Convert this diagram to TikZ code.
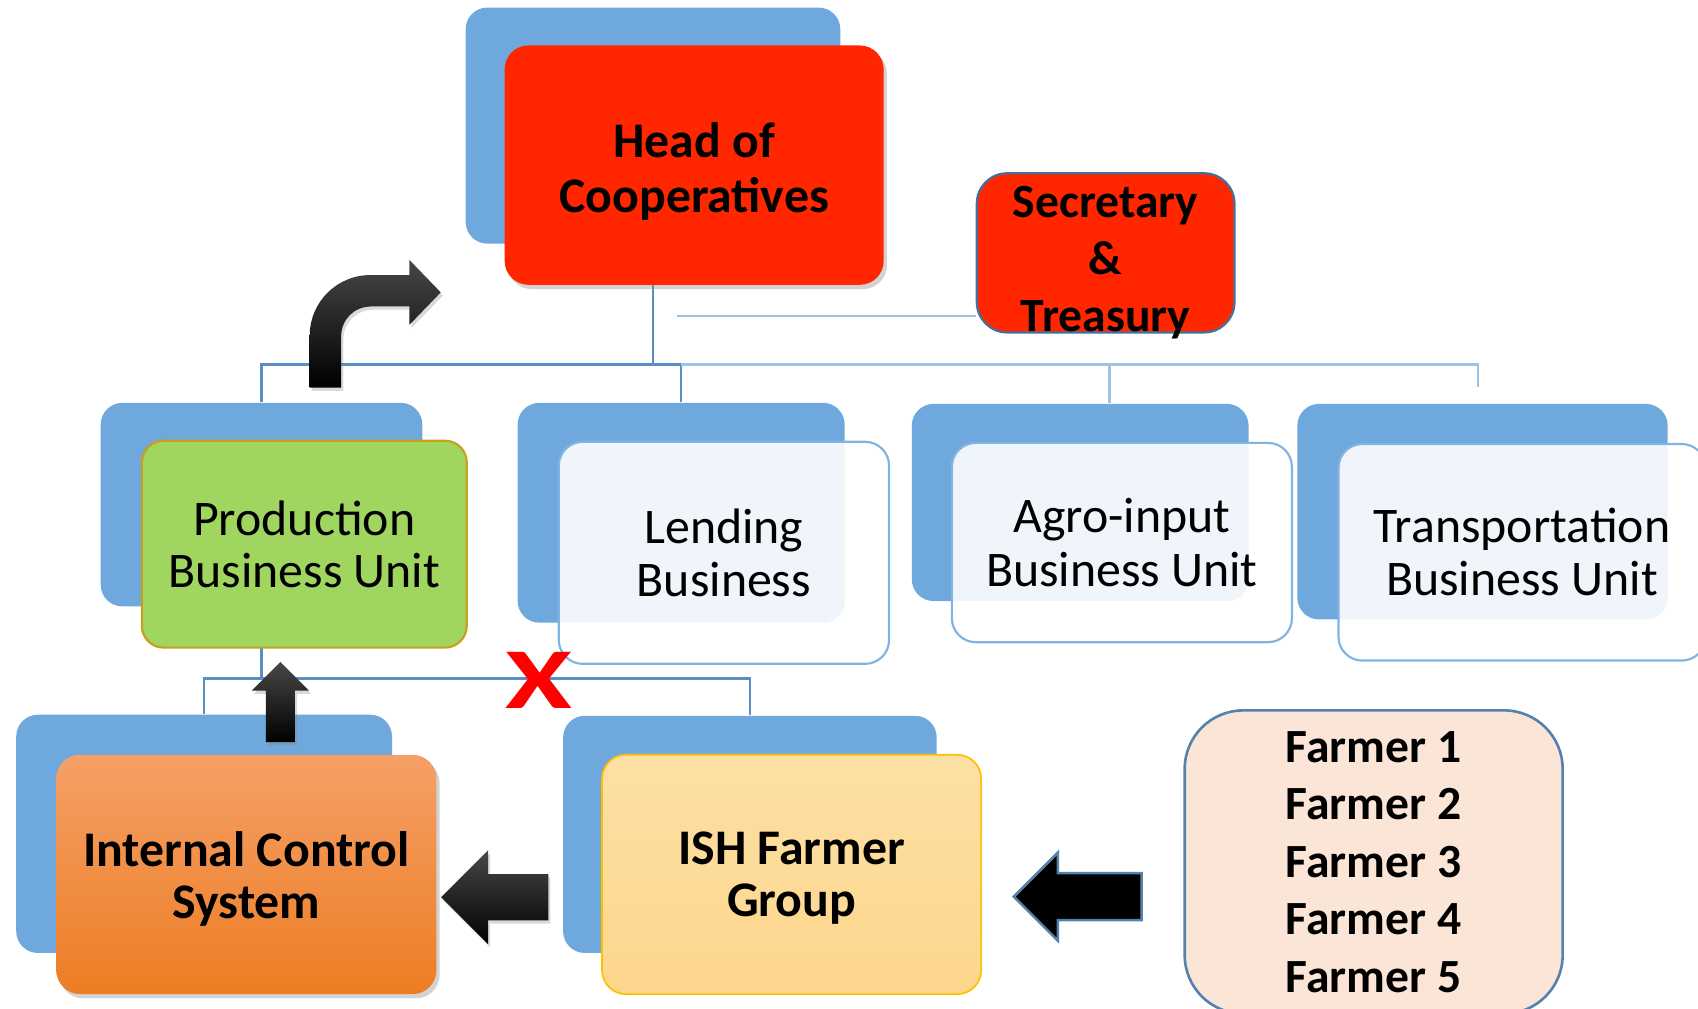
\documentclass[tikz,border=0pt]{standalone}
\usepackage{fontspec}
\setmainfont{Carlito}
\usetikzlibrary{shapes.arrows,shadows,backgrounds,calc}

\definecolor{backblue}{RGB}{111,168,220}
\definecolor{treeblue}{RGB}{91,143,196}
\definecolor{lightline}{RGB}{157,195,230}
\definecolor{unitedge}{RGB}{130,180,225}
\definecolor{coopred}{RGB}{255,38,0}
\definecolor{secedge}{RGB}{65,113,156}
\definecolor{prodgreen}{RGB}{160,213,96}
\definecolor{prodedge}{RGB}{200,160,30}
\definecolor{icstop}{RGB}{245,160,104}
\definecolor{icsbottom}{RGB}{237,125,35}
\definecolor{ishtop}{RGB}{253,224,165}
\definecolor{ishbottom}{RGB}{253,214,140}
\definecolor{ishedge}{RGB}{255,192,0}
\definecolor{farmfill}{RGB}{251,229,214}
\definecolor{farmedge}{RGB}{84,130,175}
\definecolor{xred}{RGB}{255,0,0}

\begin{document}
\begin{tikzpicture}[
		x=0.5pt, y=-0.5pt,
		every node/.style = {align=center, inner sep=0pt},
		back/.style = {rectangle, rounded corners=10pt, fill=backblue},
		headbox/.style = {rectangle, rounded corners=11pt, fill=coopred,
			font=\bfseries\fontsize{23}{25}\selectfont, text height=47pt,
			drop shadow={shadow xshift=1.5pt, shadow yshift=-2pt, opacity=0.35}},
		secbox/.style = {rectangle, rounded corners=14pt, fill=coopred,
			draw=secedge, line width=1pt, text height=73pt, text depth=0pt,
			font=\bfseries\fontsize{22}{26.5}\selectfont},
		prodbox/.style = {rectangle, rounded corners=10pt, fill=prodgreen,
			draw=prodedge, line width=1pt,
			font=\fontsize{23}{24}\selectfont},
		unitbox/.style = {rectangle, rounded corners=11pt, fill=white,
			fill opacity=0.89, text opacity=1, draw=unitedge, line width=1pt,
			font=\fontsize{23}{24.5}\selectfont},
		icsbox/.style = {rectangle, rounded corners=11pt,
			top color=icstop, bottom color=icsbottom, text height=44pt,
			font=\bfseries\fontsize{23}{24}\selectfont,
			drop shadow={shadow xshift=1.5pt, shadow yshift=-2pt, opacity=0.35}},
		ishbox/.style = {rectangle, rounded corners=11pt,
			top color=ishtop, bottom color=ishbottom, text height=42.8pt,
			draw=ishedge, line width=0.8pt,
			font=\bfseries\fontsize{23}{24}\selectfont},
		farmbox/.style = {rectangle, rounded corners=27pt, fill=farmfill,
			draw=farmedge, line width=1.2pt,
			font=\bfseries\fontsize{22}{26.5}\selectfont},
		blockarrow/.style = {single arrow, single arrow tip angle=90,
			top color=black!72, bottom color=black,
			drop shadow={shadow xshift=1pt, shadow yshift=-1.5pt, opacity=0.3}},
		tree/.style = {draw=treeblue, line width=1pt},
		lighttree/.style = {draw=lightline, line width=1pt},
		]
		\useasboundingbox (0,0) rectangle (1568,931);

		% top level
		\node[back, minimum width=173pt, minimum height=109pt] (hb) at (603,116) {};
		\node[headbox, minimum width=175pt, minimum height=110.5pt] (hf) at (641,152.5) {Head of\\Cooperatives};
		\node[secbox, minimum width=119pt, minimum height=73.5pt] (sec) at (1021,233.5) {Secretary\\\&\\Treasury};

		% business units
		\node[back, minimum width=148.5pt, minimum height=94pt] (pb) at (241.5,466) {};
		\node[prodbox, minimum width=150pt, minimum height=95.5pt] (pf) at (281,502.5) {Production\\Business Unit};
		\node[back, minimum width=151pt, minimum height=101.5pt] (lb) at (629,473.5) {};
		\node[unitbox, minimum width=152.5pt, minimum height=102.5pt] (lf) at (668.5,510.5) {Lending\\Business};
		\node[back, minimum width=155.5pt, minimum height=91pt] (ab) at (997.5,464) {};
		\node[unitbox, minimum width=157pt, minimum height=92pt] (af) at (1036,501) {Agro-input\\Business Unit};
		\node[back, minimum width=171pt, minimum height=99.5pt] (tb) at (1369,472.5) {};
		\node[unitbox, minimum width=169.5pt, minimum height=100pt] (tf) at (1405.5,510) {Transportation\\Business Unit};

		% bottom row
		\node[back, minimum width=173.5pt, minimum height=110pt] (ib) at (188.5,770) {};
		\node[icsbox, minimum width=175.5pt, minimum height=110.5pt] (icf) at (227.5,807.5) {Internal Control\\System};
		\node[back, minimum width=172.5pt, minimum height=109.5pt] (gb) at (692.5,770.5) {};
		\node[ishbox, minimum width=175pt, minimum height=110.5pt] (gf) at (731,807.5) {ISH Farmer\\Group};
		\node[farmbox, minimum width=174.5pt, minimum height=140pt] (farm) at (1268.5,796) {Farmer 1\\Farmer 2\\Farmer 3\\Farmer 4\\Farmer 5};

		% block arrows
		\node[blockarrow, shape border rotate=90, inner sep=6.5pt, minimum height=37pt,
			minimum width=26pt, single arrow head extend=6.5pt] (up) at (259,655) {};
		\node[blockarrow, shape border rotate=180, inner sep=10.5pt, minimum height=49.5pt,
			minimum width=43pt, single arrow head extend=11pt] (left) at (467.5,828.5) {};
		\node[single arrow, single arrow tip angle=90, shape border rotate=180, fill=black,
			draw=farmedge, line width=1.2pt, inner sep=10.25pt, minimum height=59pt,
			minimum width=39pt, single arrow head extend=9.5pt] (farmarrow) at (1006,828) {};
		\node[text=xred, font=\bfseries\fontsize{40}{40}\selectfont] (xmark) at (498,628) {\scalebox{1.4}[1]{X}};

		% bent arrow up to the head
		\path[top color=black!72, bottom color=black,
			drop shadow={shadow xshift=1pt, shadow yshift=-1.5pt, opacity=0.3}]
			(286,358) -- (286,310) .. controls (286,279) and (311,254) .. (342,254)
			-- (378,254) -- (378,240) -- (407,270) -- (378,300) -- (378,283)
			-- (343,283) .. controls (327,283) and (315,295) .. (315,311)
			-- (315,358) -- cycle;

		% connectors
		\begin{scope}[on background layer]
			\coordinate (sj) at (625,292);
			\draw[tree] (hb.south) -- ++(0,112);
			\draw[tree] (pb.north) -- ++(0,-35) -| (lb.north);
			\draw[lighttree] (lb.north) ++(0,-35) -| ($(ab.north)+(27,0)$);
			\draw[lighttree] (ab.north) ++(0,-36) -| ($(tb.north)+(-4,-15)$);
			\draw[lighttree] (sj) -- (sj -| sec.west);
			\draw[tree] (pb.south) -- ++(0,67);
			\draw[tree] (ib.north) -- ++(0,-33) -| (gb.north);
		\end{scope}
		\end{tikzpicture}
\end{document}
